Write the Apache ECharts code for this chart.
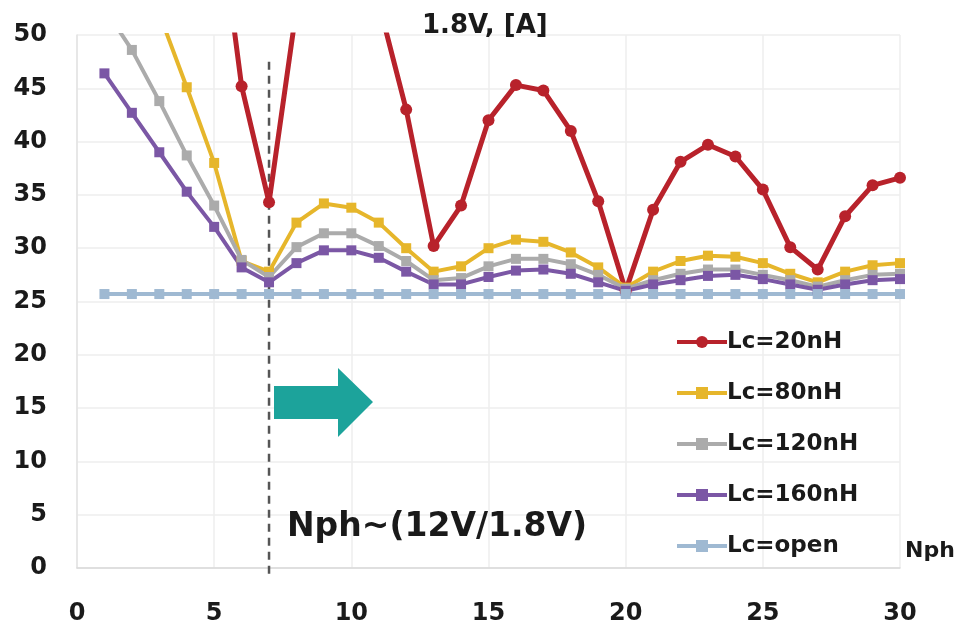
<!DOCTYPE html>
<html>
<head>
<meta charset="utf-8">
<script src="https://cdn.jsdelivr.net/npm/echarts@6/dist/echarts.min.js"></script>
<style>html,body{margin:0;padding:0;background:#fff}#c{width:967px;height:626px}</style>
</head>
<body>
<div id="c"></div>
<script>
var nph = [1,2,3,4,5,6,7,8,9,10,11,12,13,14,15,16,17,18,19,20,21,22,23,24,25,26,27,28,29,30];
var seriesNames = ['Lc=20nH','Lc=80nH','Lc=120nH','Lc=160nH','Lc=open'];
var lc20  = [null,null,null,null,65,45.2,34.3,52.5,56,56,53,43,30.2,34,42,45.3,44.8,41,34.4,26,33.6,38.1,39.7,38.6,35.5,30.1,28,33,35.9,36.6];
var lc80  = [null,null,52,45.1,38,28.8,27.8,32.4,34.2,33.8,32.4,30,27.8,28.3,30,30.8,30.6,29.6,28.2,26.3,27.8,28.8,29.3,29.2,28.6,27.6,26.8,27.8,28.4,28.6];
var lc120 = [52.5,48.6,43.8,38.7,34,28.9,27.3,30.1,31.4,31.4,30.2,28.8,27,27.2,28.3,29,29,28.5,27.5,26.2,27,27.6,28,28,27.5,27,26.4,27,27.5,27.6];
var lc160 = [46.4,42.7,39,35.3,32,28.2,26.8,28.6,29.8,29.8,29.1,27.8,26.6,26.6,27.3,27.9,28,27.6,26.8,26,26.6,27,27.4,27.5,27.1,26.6,26.1,26.6,27,27.1];
var lcOpen = [25.7,25.7,25.7,25.7,25.7,25.7,25.7,25.7,25.7,25.7,25.7,25.7,25.7,25.7,25.7,25.7,25.7,25.7,25.7,25.7,25.7,25.7,25.7,25.7,25.7,25.7,25.7,25.7,25.7,25.7];
var guideX = 7;
var guideY = [47.5, -1.1];
var xTicks = {min:0, max:30, interval:5};
var yTicks = {min:0, max:50, interval:5};

var FONT = 'DejaVu Sans';
function pairs(vals){ return nph.map(function(n,i){ return [n, vals[i]]; }); }
var colors = ['#b8222b','#e6b62b','#ababab','#7b57a5','#9fb9d2'];
var symbols = ['circle','rect','rect','rect','rect'];
var widths = [5,4,4,4,4];
var dataSets = [lc20, lc80, lc120, lc160, lcOpen];

var series = dataSets.map(function(d,i){
  return {
    name: seriesNames[i], type:'line', data: pairs(d),
    symbol: symbols[i], symbolSize: i===0?12:10,
    itemStyle:{color: colors[i]},
    lineStyle:{color: colors[i], width: widths[i]},
    clip: true, connectNulls:false, animation:false
  };
});
series.unshift({
  name:'guide', type:'line', data: guideY.map(function(y){return [guideX,y];}),
  symbol:'none', clip:false, silent:true, z:1,
  lineStyle:{color:'#555', width:2.5, type:[8,6]}, animation:false
});

var chart = echarts.init(document.getElementById('c'), null, {renderer:'canvas'});
chart.setOption({
  backgroundColor:'#fff',
  animation:false,
  grid:{left:77, right:67, top:35, bottom:58},
  title:{text:'1.8V, [A]', left:417, top:8, textStyle:{fontFamily:FONT, fontWeight:'bold', fontSize:26, color:'#1a1a1a'}},
  legend:{
    data: seriesNames, orient:'vertical', left:670, top:325,
    itemWidth:50, itemHeight:15, itemGap:27,
    lineStyle:{width:4},
    textStyle:{fontFamily:FONT, fontWeight:'bold', fontSize:23, color:'#1a1a1a', lineHeight:24, padding:[0,0,0,-5]}
  },
  xAxis:{
    type:'value', min:xTicks.min, max:xTicks.max, interval:xTicks.interval,
    name:'Nph', nameLocation:'end', nameGap:5,
    nameTextStyle:{fontFamily:FONT, fontWeight:'bold', fontSize:22, color:'#1a1a1a', align:'left', verticalAlign:'bottom', padding:[0,0,6,0]},
    axisLine:{show:true, lineStyle:{color:'#d9d9d9', width:1.5}},
    axisTick:{show:false},
    axisLabel:{margin:34, fontFamily:FONT, fontWeight:'bold', fontSize:24, color:'#1a1a1a'},
    splitLine:{show:true, lineStyle:{color:'#eeeeee', width:1.5}}
  },
  yAxis:{
    type:'value', min:yTicks.min, max:yTicks.max, interval:yTicks.interval,
    axisLine:{show:true, lineStyle:{color:'#e3e3e3', width:1.5}},
    axisTick:{show:false},
    axisLabel:{margin:30, fontFamily:FONT, fontWeight:'bold', fontSize:24, color:'#1a1a1a'},
    splitLine:{show:true, lineStyle:{color:'#eeeeee', width:1.5}}
  },
  graphic:[
    {type:'polygon', z:100, shape:{points:[[274,386],[338,386],[338,368],[373,402],[338,437],[338,419],[274,419]]},
     style:{fill:'#1ca39b'}},
    {type:'text', z:100, style:{text:'Nph~(12V/1.8V)', x:287, y:527, fontFamily:FONT, fontWeight:'bold', fontSize:33, fill:'#1a1a1a', textVerticalAlign:'middle'}}
  ],
  series: series
});
</script>
</body>
</html>
